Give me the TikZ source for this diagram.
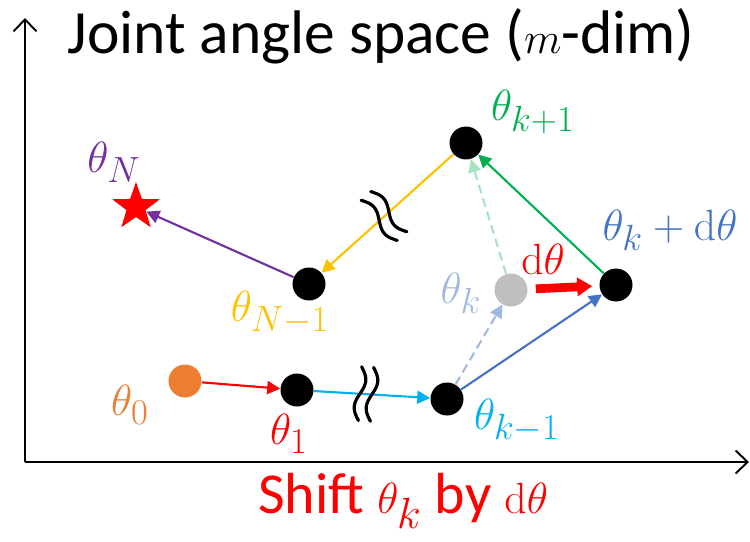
\documentclass[tikz,border=0pt]{standalone}
\usepackage{amsmath}
\usepackage[no-math]{fontspec}
\setmainfont{Carlito}
\usetikzlibrary{arrows.meta,shapes.geometric}
\definecolor{cOrange}{RGB}{237,125,49}
\definecolor{cCyan}{RGB}{0,176,240}
\definecolor{cBlue}{RGB}{68,114,196}
\definecolor{cGreen}{RGB}{0,176,80}
\definecolor{cYellow}{RGB}{255,192,0}
\definecolor{cPurple}{RGB}{112,48,160}
\definecolor{cGray}{RGB}{191,191,191}
\newcommand{\bigmath}[1]{{\fontsize{35}{40}\selectfont$#1$}}
\tikzset{
  pt/.style={circle,fill=black,minimum size=0.66cm,inner sep=0pt},   % joint config
  lbl/.style={inner sep=0pt,font=\fontsize{29}{32}\selectfont},
  link/.style={-{Triangle[length=2.6mm,width=2.6mm]},line width=1.2pt},
  ghost/.style={link,dash pattern=on 5pt off 3pt},
  brk/.style={black,line width=1.8pt,line cap=round},
  axis/.style={-{Straight Barb[length=2.4mm,width=4.6mm]},line width=1.1pt},
}
\begin{document}
\begin{tikzpicture}[x=0.02cm,y=-0.02cm]
  \useasboundingbox (0,0) rectangle (750,541);
  % axes
  \coordinate (o) at (25,462);
  \coordinate (ytip) at (25,18);
  \coordinate (xtip) at (749,462);
  \draw[axis] (o) -- (ytip);
  \draw[axis] (o) -- (xtip);
  \node[anchor=base,inner sep=0pt,font=\fontsize{35}{40}\selectfont] (title) at (381,53) {Joint angle space (\bigmath{m}-dim)};
  \node[anchor=base,inner sep=0pt,text=red,font=\fontsize{33}{36}\selectfont] (shift) at (403,513) {Shift \bigmath{\theta_k} by \bigmath{\mathrm{d}\theta}};

  % configurations
  \node[pt,fill=cOrange] (th0) at (185,381) {};
  \node[pt] (th1) at (297,390) {};
  \node[pt] (thkm) at (447,399) {};
  \node[pt,fill=cGray] (thk) at (511,290) {};
  \node[pt] (thkd) at (616,285) {};
  \node[pt] (thkp) at (466,143) {};
  \node[pt] (thNm) at (309,284) {};
  \node[star,star points=5,star point ratio=2.5,fill=red,inner sep=0pt,minimum size=1cm] (thN) at (136,207) {};

  % labels
  \node[lbl,text=cOrange] (l0) at (130,405) {$\theta_0$};
  \node[lbl,text=red] (l1) at (289,434) {$\theta_1$};
  \node[lbl,text=cCyan] (lkm) at (517,421) {$\theta_{k-1}$};
  \node[lbl,text=cBlue!50] (lk) at (461,293) {$\theta_k$};
  \node[lbl,text=cBlue] (lkd) at (670,230) {$\theta_k+\mathrm{d}\theta$};
  \node[lbl,text=red] (ld) at (543,259) {$\mathrm{d}\theta$};
  \node[lbl,text=cGreen] (lkp) at (533,112) {$\theta_{k+1}$};
  \node[lbl,text=cYellow] (lNm) at (280,313) {$\theta_{N-1}$};
  \node[lbl,text=cPurple] (lN) at (114,162) {$\theta_N$};

  % steps
  \draw[link,red] (th0) -- (th1);
  \draw[link,cCyan] (th1) -- (thkm);
  \draw[ghost,cBlue!50] (thkm) -- (thk);
  \draw[link,cBlue] (thkm) -- (thkd);
  \draw[ghost,cGreen!35] (thk) -- (thkp);
  \draw[link,cGreen] (thkd) -- (thkp);
  \draw[link,cYellow] (thkp) -- (thNm);
  \draw[link,cPurple] (thNm) -- (thN);
  \draw[red,line width=5pt,-{Triangle[length=3mm,width=3.6mm]},shorten <=1.6mm,shorten >=1.4mm] (thk) -- (thkd);

  % omitted steps
  \begin{scope}[shift={(366,394)},rotate=-3.4]
    \foreach \d in {-6,6}
      \draw[brk] plot[variable=\t,domain=-1:1,samples=25,smooth] ({\d-5*sin(180*\t)},{27*\t});
  \end{scope}
  \begin{scope}[shift={(384,216)},rotate=42]
    \foreach \d in {-6.5,6.5}
      \draw[brk] plot[variable=\t,domain=-1:1,samples=25,smooth] ({\d-5*sin(180*\t)},{27*\t});
  \end{scope}
\end{tikzpicture}
\end{document}
